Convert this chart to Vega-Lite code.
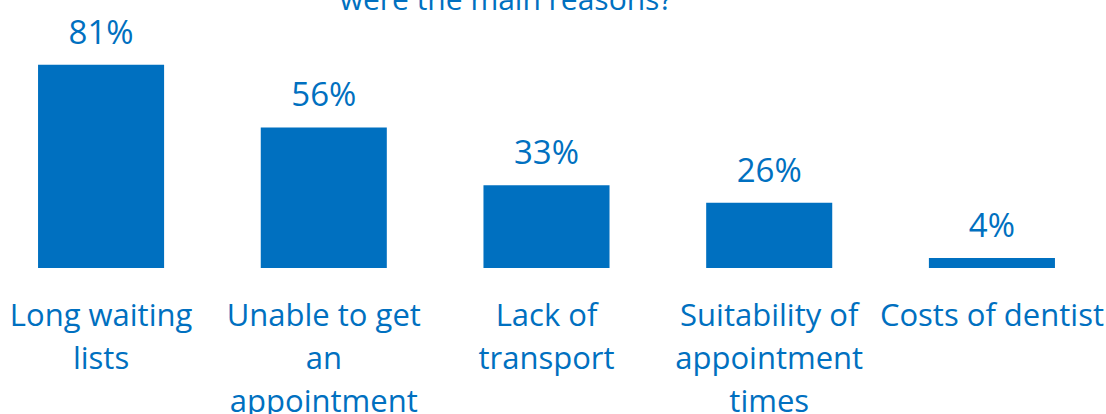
{
  "$schema": "https://vega.github.io/schema/vega-lite/v6.json",
  "autosize": {"type": "none"},
  "width": 1106,
  "height": 251,
  "padding": {"left": 0, "right": 0, "top": 17, "bottom": 146},
  "background": "white",
  "config": {"view": {"stroke": null}, "font": "Open Sans"},
  "title": {
    "text": "were the main reasons?",
    "fontSize": 30,
    "fontWeight": "normal",
    "color": "#0070C0",
    "anchor": "middle",
    "baseline": "alphabetic",
    "dx": -47,
    "dy": 23,
    "offset": 0
  },
  "data": {
    "values": [
      {"reason": "Long waiting\nlists", "share": 0.81},
      {"reason": "Unable to get\nan\nappointment", "share": 0.56},
      {"reason": "Lack of\ntransport", "share": 0.33},
      {"reason": "Suitability of\nappointment\ntimes", "share": 0.26},
      {"reason": "Costs of dentist", "share": 0.04}
    ]
  },
  "encoding": {
    "x": {
      "field": "reason",
      "type": "nominal",
      "sort": null,
      "scale": {"paddingInner": 0.434, "paddingOuter": 0.2, "align": 0.427},
      "axis": {
        "title": null,
        "domain": false,
        "ticks": false,
        "labelAngle": 0,
        "labelFontSize": 31,
        "labelColor": "#0070C0",
        "labelPadding": 33,
        "labelLineHeight": 43,
        "labelLimit": 0,
        "labelExpr": "split(datum.label, '\\n')"
      }
    },
    "y": {
      "field": "share",
      "type": "quantitative",
      "scale": {"domain": [0, 1]},
      "axis": null
    }
  },
  "layer": [
    {"mark": {"type": "bar", "color": "#0070C0"}},
    {
      "mark": {"type": "text", "baseline": "alphabetic", "dy": -21, "fontSize": 33, "color": "#0070C0"},
      "encoding": {"text": {"field": "share", "type": "quantitative", "format": ".0%"}}
    }
  ]
}
